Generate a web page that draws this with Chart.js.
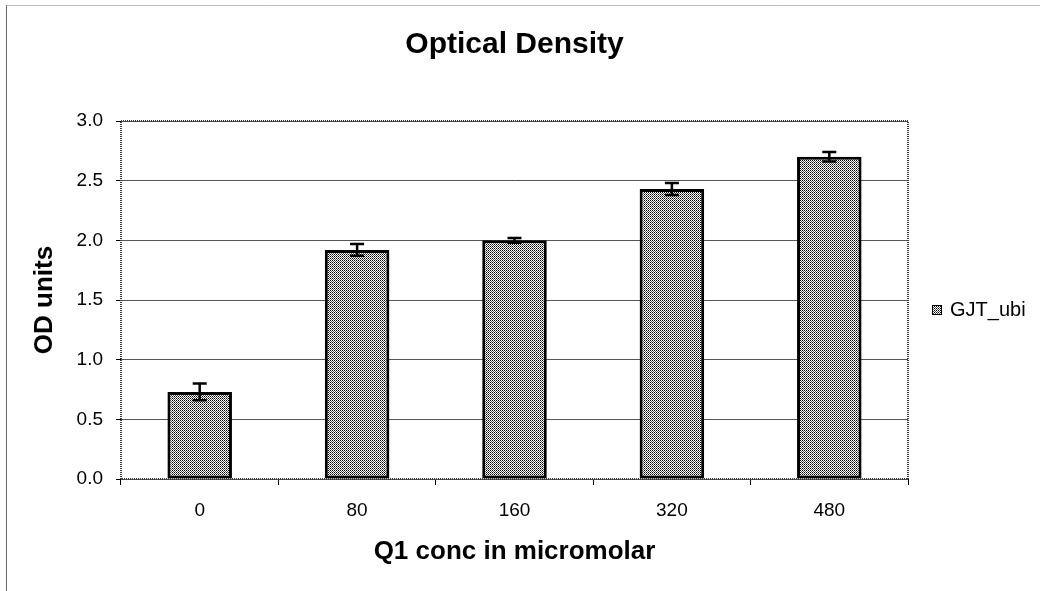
<!DOCTYPE html>
<html>
<head>
<meta charset="utf-8">
<script src="https://cdn.jsdelivr.net/npm/chart.js@4/dist/chart.umd.min.js"></script>
<style>
  html, body { margin: 0; padding: 0; background: #fff; }
  #wrap { position: relative; width: 1040px; height: 591px; }
</style>
</head>
<body>
<div id="wrap"><canvas id="myGraph" width="1040" height="591"></canvas></div>
<script>
// chart data
const categories = ["0", "80", "160", "320", "480"];
const odValues = [0.73, 1.92, 2.00, 2.43, 2.70];
const odErrors = [0.07, 0.05, 0.02, 0.05, 0.04];
const seriesName = "GJT_ubi";
const chartTitle = "Optical Density";
const yTicks = [0, 0.5, 1.0, 1.5, 2.0, 2.5, 3.0];

const FONT = "'Liberation Sans', Arial, Helvetica, sans-serif";

// dotted fill like the old spreadsheet pattern
function makePattern() {
  const c = document.createElement("canvas");
  c.width = 2;
  c.height = 2;
  const g = c.getContext("2d");
  g.fillStyle = "#ffffff";
  g.fillRect(0, 0, 2, 2);
  g.fillStyle = "#000000";
  g.fillRect(0, 0, 1, 1);
  g.fillStyle = "#5a5a5a";
  g.fillRect(1, 1, 1, 1);
  return g.createPattern(c, "repeat");
}
const dots = makePattern();

// outer frame, title over the plot, plot frame, error bars and legend
const extras = {
  id: "extras",
  beforeDraw(chart) {
    const ctx = chart.ctx;
    const a = chart.chartArea;
    ctx.save();
    ctx.fillStyle = "#fff";
    ctx.fillRect(0, 0, chart.width, chart.height);
    ctx.lineWidth = 1;
    ctx.strokeStyle = "#bdbdbd";
    ctx.beginPath();
    ctx.moveTo(6, 5.5);
    ctx.lineTo(chart.width, 5.5);
    ctx.stroke();
    ctx.strokeStyle = "#6a6a6a";
    ctx.beginPath();
    ctx.moveTo(6.5, 5);
    ctx.lineTo(6.5, chart.height);
    ctx.stroke();

    ctx.fillStyle = "#000";
    ctx.font = "bold 30px " + FONT;
    ctx.textAlign = "center";
    ctx.textBaseline = "middle";
    ctx.fillText(chartTitle, (a.left + a.right) / 2, a.top - 76);
    ctx.restore();
  },
  afterDatasetsDraw(chart) {
    const ctx = chart.ctx;
    const a = chart.chartArea;
    const y = chart.scales.y;
    const meta = chart.getDatasetMeta(0);

    ctx.save();
    // plot area border (hatched look)
    ctx.strokeStyle = "#3a3a3a";
    ctx.lineWidth = 2;
    ctx.setLineDash([1, 1]);
    ctx.strokeRect(a.left, a.top, a.right - a.left, a.bottom - a.top);
    ctx.setLineDash([]);

    // error bars
    ctx.strokeStyle = "#000";
    ctx.lineWidth = 2.5;
    meta.data.forEach((bar, i) => {
      const v = odValues[i];
      const e = odErrors[i];
      const yt = y.getPixelForValue(v + e);
      const yb = y.getPixelForValue(v - e);
      const x = bar.x;
      ctx.beginPath();
      ctx.moveTo(x, yt);
      ctx.lineTo(x, yb);
      ctx.moveTo(x - 7, yt);
      ctx.lineTo(x + 7, yt);
      ctx.moveTo(x - 7, yb);
      ctx.lineTo(x + 7, yb);
      ctx.stroke();
    });

    // legend
    const lx = a.right + 24;
    const ly = a.top + 189;
    ctx.fillStyle = dots;
    ctx.fillRect(lx, ly - 5, 10, 10);
    ctx.lineWidth = 1;
    ctx.strokeStyle = "#000";
    ctx.strokeRect(lx + 0.5, ly - 4.5, 9, 9);
    ctx.fillStyle = "#000";
    ctx.font = "20px " + FONT;
    ctx.textBaseline = "middle";
    ctx.textAlign = "left";
    ctx.fillText(chart.data.datasets[0].label, lx + 18, ly);
    ctx.restore();
  }
};

new Chart(document.getElementById("myGraph"), {
  type: "bar",
  data: {
    labels: categories,
    datasets: [
      {
        label: seriesName,
        data: odValues,
        backgroundColor: dots,
        borderColor: "#000",
        borderWidth: 3,
        borderSkipped: false,
        barPercentage: 0.41,
        categoryPercentage: 1.0
      }
    ]
  },
  options: {
    responsive: false,
    animation: false,
    devicePixelRatio: 1,
    layout: {
      padding: { left: 29, right: 132, top: 121, bottom: 24 }
    },
    plugins: {
      legend: { display: false },
      tooltip: { enabled: false },
      title: { display: false }
    },
    scales: {
      x: {
        grid: {
          display: true,
          drawOnChartArea: false,
          drawTicks: true,
          tickLength: 6,
          tickColor: "#000",
          offset: true
        },
        border: { display: false },
        ticks: {
          color: "#000",
          padding: 14,
          font: { family: FONT, size: 19 }
        },
        title: {
          display: true,
          text: "Q1 conc in micromolar",
          color: "#000",
          font: { family: FONT, size: 26, weight: "bold" },
          padding: { top: 0, bottom: 0 }
        },
        afterFit(s) { s.height = 88; }
      },
      y: {
        min: 0,
        max: 3,
        afterBuildTicks(s) { s.ticks = yTicks.map(v => ({ value: v })); },
        grid: {
          color: "#555",
          lineWidth: 1,
          drawTicks: true,
          tickLength: 5,
          tickColor: "#000"
        },
        border: { display: false },
        ticks: {
          color: "#000",
          padding: 13,
          font: { family: FONT, size: 19 },
          callback: (v) => Number(v).toFixed(1)
        },
        title: {
          display: true,
          text: "OD units",
          color: "#000",
          font: { family: FONT, size: 26, weight: "bold" },
          padding: { top: 0, bottom: 0 }
        },
        afterFit(s) { s.width = 92; }
      }
    }
  },
  plugins: [extras]
});
</script>
</body>
</html>
